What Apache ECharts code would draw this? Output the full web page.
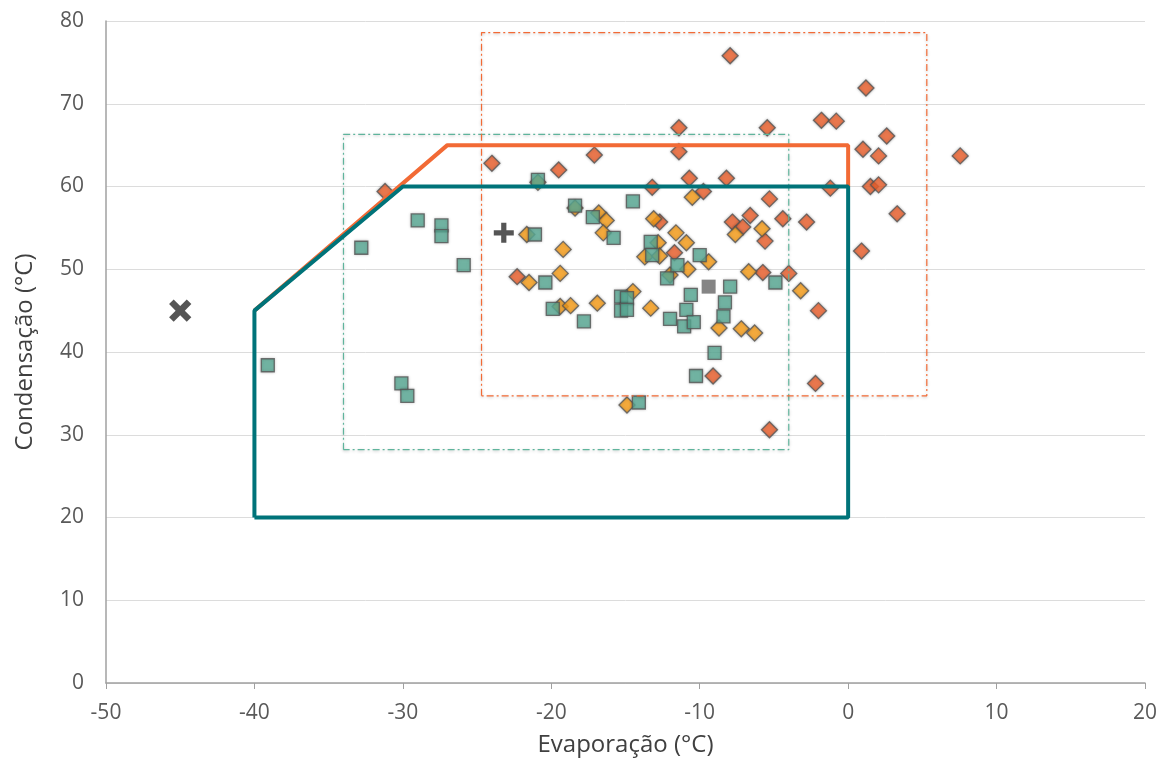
<!DOCTYPE html>
<html><head><meta charset="utf-8">
<script src="https://cdn.jsdelivr.net/npm/echarts@6/dist/echarts.min.js"></script>
<style>html,body{margin:0;padding:0;background:#fff}#c{width:1165px;height:762px}</style>
</head><body><div id="c"></div>
<script>
const xTicks = [-50, 20, 10];
const yTicks = [0, 80, 10];
const xTitle = 'Evaporação (°C)';
const yTitle = 'Condensação (°C)';

const tealSquares = [
 [-39.1,38.4],[-32.8,52.6],[-30.1,36.2],[-29.7,34.7],[-29.0,55.9],[-27.4,55.3],[-27.4,54.0],
 [-25.9,50.5],[-20.9,60.8],[-21.1,54.2],[-20.4,48.4],[-19.9,45.2],[-18.4,57.7],[-17.2,56.3],
 [-17.8,43.7],[-15.8,53.8],[-14.5,58.2],[-15.3,46.7],[-14.9,46.5],[-15.3,45.0],[-14.9,45.1],
 [-14.1,33.9],[-13.3,53.3],[-13.2,51.7],[-12.2,48.9],[-12.0,44.0],[-11.5,50.5],[-11.05,43.1],
 [-10.9,45.1],[-10.6,46.9],[-10.4,43.6],[-10.25,37.1],[-10.0,51.7],[-9.0,39.9],[-8.4,44.3],
 [-8.3,46.0],[-7.95,47.9],[-4.9,48.4]
];
const goldDiamonds = [
 [-21.65,54.2],[-20.9,60.5],[-21.5,48.4],[-19.2,52.4],[-19.4,49.5],[-19.4,45.5],[-18.7,45.6],
 [-18.4,57.4],[-16.8,56.8],[-16.3,55.9],[-16.5,54.4],[-16.9,45.9],[-14.9,33.6],[-14.5,47.3],
 [-13.7,51.5],[-13.3,45.3],[-13.1,56.1],[-12.8,53.2],[-12.7,51.6],[-12.0,49.3],[-11.6,54.4],
 [-10.9,53.2],[-10.8,50.0],[-10.5,58.7],[-9.4,50.9],[-8.7,42.9],[-7.6,54.2],[-7.2,42.8],
 [-6.7,49.7],[-6.3,42.3],[-5.8,54.9],[-3.2,47.4]
];
const redDiamonds = [
 [-31.2,59.4],[-24.0,62.8],[-22.3,49.1],[-19.5,62.0],[-17.1,63.8],[-13.2,59.9],[-12.7,55.7],
 [-11.7,52.0],[-11.4,67.1],[-11.4,64.2],[-10.7,61.0],[-9.75,59.4],[-9.1,37.1],[-8.2,61.0],
 [-7.95,75.8],[-7.8,55.7],[-7.1,55.1],[-6.6,56.5],[-5.75,49.6],[-5.6,53.4],[-5.45,67.1],
 [-5.3,58.5],[-5.3,30.6],[-4.4,56.1],[-4.0,49.5],[-2.8,55.7],[-2.2,36.2],[-2.0,45.0],
 [-1.8,68.0],[-1.2,59.8],[-0.8,67.9],[0.9,52.2],[1.0,64.5],[1.2,71.9],[1.5,60.0],
 [2.05,63.7],[2.05,60.2],[2.6,66.1],[3.3,56.7],[7.55,63.7]
];
const crossPoint = [[-45,45]];
const plusPoint = [[-23.2,54.4]];
const graySquare = [[-9.4,47.9]];

const tealEnvelope = [[-40,20],[-40,45],[-30,60],[0,60],[0,20],[-40,20]];
const orangeEnvelope = [[-40,45],[-27,65],[0,65],[0,60]];
const tealRect = [[-34,28.2],[-34,66.3],[-4,66.3],[-4,28.2],[-34,28.2]];
const orangeRect = [[-24.7,34.7],[-24.7,78.6],[5.3,78.6],[5.3,34.7],[-24.7,34.7]];

const FONT = 'Open Sans';
const plusPath = 'path://M3.7,0h2.6v3.7h3.7v2.6h-3.7v3.7h-2.6v-3.7h-3.7v-2.6h3.7z';

function markerStyle(color){
  return {color: color, borderColor:'#555555', borderWidth:1.3,
          shadowBlur:3, shadowColor:'rgba(0,0,0,0.3)'};
}
function lineSeries(data, color, width, type, shadow){
  return {type:'line', data:data, symbol:'none', silent:true, animation:false,
    lineStyle:{color:color, width:width, type:type,
      shadowBlur: shadow?3:0, shadowColor:'rgba(0,0,0,0.25)', shadowOffsetY: shadow?1:0}};
}

const chart = echarts.init(document.getElementById('c'));
chart.setOption({
  animation:false,
  grid:{left:106, right:20, top:21, bottom:79},
  xAxis:{type:'value', min:xTicks[0], max:xTicks[1], interval:xTicks[2],
    name:xTitle, nameLocation:'middle', nameGap:50,
    nameTextStyle:{fontFamily:FONT, fontSize:24, color:'#404040'},
    axisLine:{onZero:false, lineStyle:{color:'#a0a0a0', width:1.5}},
    axisTick:{show:true, length:6, lineStyle:{color:'#a0a0a0'}},
    axisLabel:{fontFamily:FONT, fontSize:21, color:'#595959', margin:20},
    splitLine:{show:false}},
  yAxis:{type:'value', min:yTicks[0], max:yTicks[1], interval:yTicks[2],
    name:yTitle, nameLocation:'middle', nameGap:69,
    nameTextStyle:{fontFamily:FONT, fontSize:24, color:'#404040'},
    axisLine:{show:true, onZero:false, lineStyle:{color:'#a0a0a0', width:1.5}},
    axisTick:{show:false},
    axisLabel:{fontFamily:FONT, fontSize:21, color:'#595959', margin:22},
    splitLine:{show:true, lineStyle:{color:'#dcdcdc', width:1}}},
  series:[
    lineSeries(tealRect, '#5FB49C', 1.2, [7,3,2,3], true),
    lineSeries(orangeRect, '#F26A35', 1.2, [7,3,2,3], true),
    lineSeries(orangeEnvelope, '#F26A35', 4, 'solid', false),
    lineSeries(tealEnvelope, '#007379', 4, 'solid', false),
    {type:'scatter', data:redDiamonds, symbol:'diamond', symbolSize:16, itemStyle:markerStyle('#F26430')},
    {type:'scatter', data:goldDiamonds, symbol:'diamond', symbolSize:16, itemStyle:markerStyle('#FFA21A')},
    {type:'scatter', data:tealSquares, symbol:'rect', symbolSize:13, itemStyle:markerStyle('#5BAE98')},
    {type:'scatter', data:graySquare, symbol:'rect', symbolSize:14, itemStyle:{color:'#666666'}},
    {type:'scatter', data:plusPoint, symbol:plusPath, symbolSize:20, itemStyle:{color:'#2b2b2b'}},
    {type:'scatter', data:crossPoint, symbol:plusPath, symbolSize:25, symbolRotate:45, itemStyle:{color:'#2b2b2b'}}
  ]
});
</script>
</body></html>
